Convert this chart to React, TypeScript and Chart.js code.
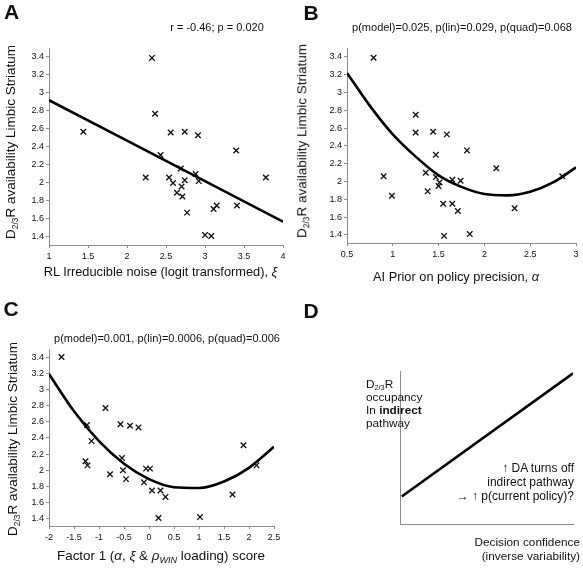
import React, { useEffect, useRef } from "react";
import { Chart, registerables } from "chart.js";

Chart.register(...registerables);

// ---------------- DATA ----------------
// Panel A: RL irreducible noise vs D2/3R availability
const A_X = [2.32, 2.36, 1.44, 2.56, 2.74, 2.91, 3.40, 2.43, 2.24, 3.78, 2.54, 2.59, 2.69, 2.88, 2.74, 2.92, 2.70, 2.64, 2.71, 2.77, 3.11, 3.15, 3.41, 3.00, 3.08];
const A_Y = [3.39, 2.77, 2.57, 2.56, 2.57, 2.53, 2.36, 2.31, 2.06, 2.06, 2.06, 2.00, 2.16, 2.10, 2.03, 2.02, 1.96, 1.89, 1.85, 1.67, 1.71, 1.75, 1.75, 1.42, 1.41];
const A_FIT_X = [1, 4];
const A_FIT_Y = [2.92, 1.57];
const A_X_TICKS = [1, 1.5, 2, 2.5, 3, 3.5, 4];

// Panel B: AI prior on policy precision
const B_X = [0.79, 1.25, 1.25, 1.44, 1.59, 1.81, 1.47, 2.13, 1.36, 1.47, 1.51, 1.50, 1.65, 1.74, 1.38, 1.55, 1.65, 1.71, 2.33, 1.56, 1.84, 0.90, 0.99, 2.85];
const B_Y = [3.39, 2.75, 2.55, 2.56, 2.53, 2.35, 2.30, 2.15, 2.10, 2.05, 1.99, 1.95, 2.02, 2.01, 1.89, 1.75, 1.75, 1.67, 1.70, 1.39, 1.41, 2.06, 1.84, 2.06];
const B_FIT_X = [0.5, 0.75, 1, 1.25, 1.5, 1.75, 2, 2.25, 2.5, 2.75, 3];
const B_FIT_Y = [3.22, 2.85, 2.53, 2.28, 2.07, 1.94, 1.86, 1.845, 1.885, 1.99, 2.16];
const B_X_TICKS = [0.5, 1, 1.5, 2, 2.5, 3];

// Panel C: Factor 1 score
const C_X = [-1.75, -0.87, -1.24, -0.57, -0.38, -0.21, -1.15, -0.54, -1.27, -1.23, -0.78, -0.52, -0.46, -0.06, 0.02, -0.10, 0.06, 0.23, 0.33, 0.19, 1.02, 1.67, 1.89, 2.15];
const C_Y = [3.40, 2.77, 2.56, 2.57, 2.55, 2.53, 2.36, 2.15, 2.11, 2.06, 1.95, 2.00, 1.89, 2.02, 2.02, 1.85, 1.75, 1.75, 1.67, 1.41, 1.42, 1.70, 2.31, 2.06];
const C_FIT_X = [-2, -1.5, -1, -0.5, 0, 0.5, 1, 1.5, 2, 2.5];
const C_FIT_Y = [3.19, 2.73, 2.36, 2.08, 1.89, 1.79, 1.78, 1.86, 2.03, 2.29];
const C_X_TICKS = [-2, -1.5, -1, -0.5, 0, 0.5, 1, 1.5, 2, 2.5];

// Shared y axis
const Y_TICKS = [1.4, 1.6, 1.8, 2, 2.2, 2.4, 2.6, 2.8, 3, 3.2, 3.4];
const Y_MIN = 1.31;
const Y_MAX = 3.5;

// Panel D: schematic line
const D_LINE_X = [0.01, 1];
const D_LINE_Y = [0.18, 0.985];

// ---------------- STYLE ----------------
const FONT = '"Liberation Sans", Arial, Helvetica, sans-serif';
const AXIS = "#8c8c8c";
const INK = "#111";

const fmt = (v: number) => String(Math.round(v * 100) / 100);

function toPts(xs: number[], ys: number[]) {
  return xs.map((x, i) => ({ x, y: ys[i] }));
}

function scatterConfig(o: any): any {
  return {
    type: "scatter",
    data: {
      datasets: [
        {
          data: toPts(o.fx, o.fy),
          showLine: true,
          pointRadius: 0,
          borderColor: "#000",
          borderWidth: 2.6,
          cubicInterpolationMode: "monotone",
          fill: false,
        },
        {
          data: toPts(o.xs, o.ys),
          pointStyle: "crossRot",
          pointRadius: 3.9,
          borderColor: INK,
          backgroundColor: INK,
          borderWidth: 1.35,
          showLine: false,
        },
      ],
    },
    options: {
      responsive: false,
      animation: false,
      devicePixelRatio: 1,
      layout: { padding: o.pad },
      plugins: { legend: { display: false }, tooltip: { enabled: false } },
      scales: {
        x: {
          type: "linear",
          min: o.xMin,
          max: o.xMax,
          afterBuildTicks: (s: any) => {
            s.ticks = o.xTicks.map((v: number) => ({ value: v }));
          },
          afterFit: (s: any) => {
            s.height = o.xH;
          },
          ticks: {
            font: { family: FONT, size: 9 },
            color: "#111",
            padding: 3,
            maxRotation: 0,
            autoSkip: false,
            callback: (v: any) => fmt(Number(v)),
          },
          grid: { drawOnChartArea: false, tickLength: 3, color: AXIS },
          border: { color: AXIS, width: 1 },
        },
        y: {
          type: "linear",
          min: Y_MIN,
          max: Y_MAX,
          afterBuildTicks: (s: any) => {
            s.ticks = Y_TICKS.map((v) => ({ value: v }));
          },
          afterFit: (s: any) => {
            s.width = o.yW;
          },
          ticks: {
            font: { family: FONT, size: 9 },
            color: "#111",
            padding: 2,
            autoSkip: false,
            callback: (v: any) => fmt(Number(v)),
          },
          grid: { drawOnChartArea: false, tickLength: 3, color: AXIS },
          border: { color: AXIS, width: 1 },
        },
      },
    },
  };
}

function lineConfig(): any {
  return {
    type: "scatter",
    data: {
      datasets: [
        {
          data: toPts(D_LINE_X, D_LINE_Y),
          showLine: true,
          pointRadius: 0,
          borderColor: "#000",
          borderWidth: 2.6,
        },
      ],
    },
    options: {
      responsive: false,
      animation: false,
      devicePixelRatio: 1,
      layout: { padding: { left: 109, right: 10, top: 86, bottom: 45 } },
      plugins: { legend: { display: false }, tooltip: { enabled: false } },
      scales: {
        x: {
          type: "linear",
          min: 0,
          max: 1,
          ticks: { display: false },
          grid: { display: false },
          border: { color: AXIS, width: 1 },
          afterFit: (s: any) => {
            s.height = 0;
          },
        },
        y: {
          type: "linear",
          min: 0,
          max: 1,
          ticks: { display: false },
          grid: { display: false },
          border: { color: AXIS, width: 1 },
          afterFit: (s: any) => {
            s.width = 0;
          },
        },
      },
    },
  };
}

function ChartBox({ left, top, width, height, config }: any) {
  const ref = useRef<HTMLCanvasElement>(null);
  useEffect(() => {
    const chart = new Chart(ref.current as HTMLCanvasElement, config);
    return () => chart.destroy();
  }, []);
  return (
    <canvas
      ref={ref}
      width={width}
      height={height}
      style={{ position: "absolute", left, top, width, height }}
    />
  );
}

function T({ x, y, size = 12, align = "center", weight = 400, rotate = false, children }: any) {
  let tr = "translate(-50%,-50%)";
  if (align === "left") tr = "translate(0,-50%)";
  if (align === "right") tr = "translate(-100%,-50%)";
  if (rotate) tr = "translate(-50%,-50%) rotate(-90deg)";
  return (
    <div
      style={{
        position: "absolute",
        left: x,
        top: y,
        transform: tr,
        fontFamily: FONT,
        fontSize: size,
        fontWeight: weight,
        lineHeight: 1,
        whiteSpace: "nowrap",
        color: "#111",
        pointerEvents: "none",
      }}
    >
      {children}
    </div>
  );
}

const Sub = ({ children, italic = false, scale = 0.62 }: any) => (
  <span
    style={{
      fontSize: scale + "em",
      position: "relative",
      top: "0.3em",
      fontStyle: italic ? "italic" : "normal",
    }}
  >
    {children}
  </span>
);
const It = ({ children }: any) => <span style={{ fontStyle: "italic" }}>{children}</span>;

const YTitle = () => (
  <>
    D<Sub>2/3</Sub>R availability Limbic Striatum
  </>
);

export default function App() {
  const cfgA = scatterConfig({
    xs: A_X, ys: A_Y, fx: A_FIT_X, fy: A_FIT_Y,
    xMin: 1, xMax: 4, xTicks: A_X_TICKS,
    pad: { left: 0, right: 8, top: 48, bottom: 0 }, yW: 49, xH: 40,
  });
  const cfgB = scatterConfig({
    xs: B_X, ys: B_Y, fx: B_FIT_X, fy: B_FIT_Y,
    xMin: 0.5, xMax: 3, xTicks: B_X_TICKS,
    pad: { left: 0, right: 7, top: 48, bottom: 0 }, yW: 56, xH: 42,
  });
  const cfgC = scatterConfig({
    xs: C_X, ys: C_Y, fx: C_FIT_X, fy: C_FIT_Y,
    xMin: -2, xMax: 2.5, xTicks: C_X_TICKS,
    pad: { left: 0, right: 17, top: 64, bottom: 0 }, yW: 49, xH: 43,
  });
  const cfgD = lineConfig();

  return (
    <div
      style={{
        position: "fixed",
        left: 0,
        top: 0,
        width: 583,
        height: 569,
        background: "#fff",
        overflow: "hidden",
      }}
    >
      <ChartBox left={0} top={0} width={291} height={285} config={cfgA} />
      <ChartBox left={291} top={0} width={292} height={285} config={cfgB} />
      <ChartBox left={0} top={285} width={291} height={284} config={cfgC} />
      <ChartBox left={291} top={285} width={292} height={284} config={cfgD} />

      {/* Panel letters */}
      <T x={11.5} y={11} size={21} weight={700}>A</T>
      <T x={311} y={11.5} size={21} weight={700}>B</T>
      <T x={11} y={308} size={21} weight={700}>C</T>
      <T x={311} y={309.5} size={21} weight={700}>D</T>

      {/* Annotations */}
      <T x={217} y={27} size={11}>r = -0.46; p = 0.020</T>
      <T x={462} y={27} size={11}>p(model)=0.025, p(lin)=0.029, p(quad)=0.068</T>
      <T x={167} y={337.5} size={11}>p(model)=0.001, p(lin)=0.0006, p(quad)=0.006</T>

      {/* Axis titles */}
      <T x={160.5} y={272} size={12.8}>
        RL Irreducible noise (logit transformed), <It>ξ</It>
      </T>
      <T x={456} y={277} size={12.8}>
        AI Prior on policy precision, <It>α</It>
      </T>
      <T x={161} y={556} size={13.4}>
        Factor 1 (<It>α</It>, <It>ξ</It> &amp; <It>ρ</It>
        <Sub italic scale={0.68}>WIN</Sub> loading) score
      </T>
      <T x={11} y={141.5} size={13.5} rotate>
        <YTitle />
      </T>
      <T x={302} y={141} size={13.5} rotate>
        <YTitle />
      </T>
      <T x={12.5} y={439} size={13.5} rotate>
        <YTitle />
      </T>

      {/* Panel D texts */}
      <T x={366} y={384.5} size={11.8} align="left">
        D<Sub>2/3</Sub>R
      </T>
      <T x={366} y={398} size={11.8} align="left">occupancy</T>
      <T x={366} y={411.2} size={11.8} align="left">
        In <b>indirect</b>
      </T>
      <T x={366} y={424.4} size={11.8} align="left">pathway</T>

      <T x={574} y={468.3} size={12} align="right">↑ DA turns off</T>
      <T x={574} y={482.3} size={12} align="right">indirect pathway</T>
      <T x={574} y={496.3} size={12} align="right">→ ↑ p(current policy)?</T>

      <T x={580} y={543.3} size={11.8} align="right">Decision confidence</T>
      <T x={580} y={556.7} size={11.8} align="right">(inverse variability)</T>
    </div>
  );
}
